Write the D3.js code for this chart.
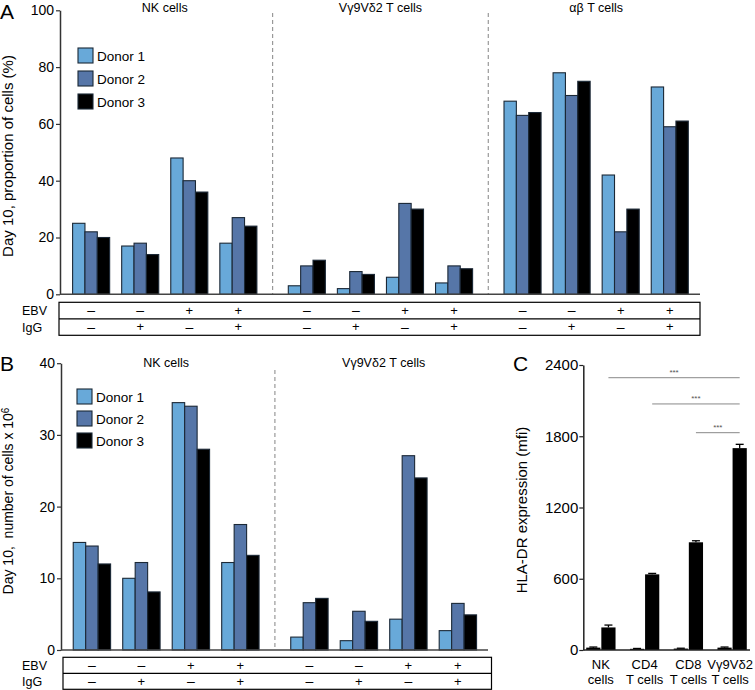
<!DOCTYPE html>
<html><head><meta charset="utf-8">
<script src="https://cdn.jsdelivr.net/npm/d3@7"></script>
<style>body{margin:0;background:#fff} svg{display:block} text{font-family:"Liberation Sans",Arial,sans-serif;fill:#000}</style>
</head><body><svg id="c" width="755" height="690"></svg>
<script>
// ---------- data ----------
const donors = ["Donor 1", "Donor 2", "Donor 3"];
const donorColors = ["#68a9d9", "#5676a8", "#000000"];
const conditions = ["c1", "c2", "c3", "c4"];
const ebvSigns = ["–", "–", "+", "+"];
const iggSigns = ["–", "+", "–", "+"];
const sectionsA = ["NK cells", "Vγ9Vδ2 T cells", "αβ T cells"];
const sectionsB = ["NK cells", "Vγ9Vδ2 T cells"];
// Panel A: % of cells, [condition][donor]
const nkA = [[25, 22, 20], [17, 18, 14], [48, 40, 36], [18, 27, 24]];
const vgA = [[3, 10, 12], [2, 8, 7], [6, 32, 30], [4, 10, 9]];
const abA = [[68, 63, 64], [78, 70, 75], [42, 22, 30], [73, 59, 61]];
// Panel B: number of cells x 10^6
const nkB = [[15, 14.5, 12], [10, 12.2, 8.1], [34.5, 34, 28], [12.2, 17.5, 13.2]];
const vgB = [[1.8, 6.6, 7.2], [1.3, 5.4, 4.0], [4.3, 27.1, 24], [2.7, 6.5, 4.9]];
const ticksA = [0, 20, 40, 60, 80, 100];
const ticksB = [0, 10, 20, 30, 40];
// Panel C: HLA-DR expression (mfi)
const cellTypesC = ["NK", "CD4", "CD8", "Vg9Vd2"];
const cellLabelsC = [["NK", "cells"], ["CD4", "T cells"], ["CD8", "T cells"], ["Vγ9Vδ2", "T cells"]];
const seriesC = ["control", "stimulated"];
const ctrlC = [20, 10, 12, 20];
const ctrlErrC = [5, 3, 3, 5];
const stimC = [190, 637, 907, 1700];
const stimErrC = [20, 8, 13, 32];
const ticksC = [0, 600, 1200, 1800, 2400];
const sigFromC = [0, 1, 2];
const sigToC = 3;
const sigYC = [2293, 2072, 1830];

// ---------- drawing ----------
const svg = d3.select("#c");
const FONT = '"Liberation Sans", Arial, sans-serif';

function barPanel(o) {
  const g = svg.append("g");
  const y = d3.scaleLinear().domain([0, o.yMax]).range([o.y0, o.y1]);
  const xs = d3.scaleBand().domain(o.sections).range(o.xRange);
  const xc = d3.scaleBand().domain(conditions).range([0, xs.bandwidth()]).paddingInner(0.245).paddingOuter(0.32);
  const xd = d3.scaleBand().domain(donors).range([0, xc.bandwidth()]);

  // dashed separators
  o.sections.slice(1).forEach(s => {
    g.append("line").attr("x1", xs(s)).attr("x2", xs(s)).attr("y1", o.dashTop).attr("y2", y(0))
      .attr("stroke", "#999").attr("stroke-width", 1.2).attr("stroke-dasharray", "4,3");
  });
  // section titles
  g.selectAll(".sec").data(o.sections).join("text")
    .attr("x", s => xs(s) + xs.bandwidth() / 2).attr("y", o.titleY)
    .attr("text-anchor", "middle").style("font-size", "12.5px").text(s => s);

  // bars
  o.sections.forEach((s, si) => {
    const vals = o.data[si];
    conditions.forEach((c, ci) => {
      g.selectAll(null).data(vals[ci]).join("rect")
        .attr("x", (v, di) => xs(s) + xc(c) + xd(donors[di]))
        .attr("y", v => y(v))
        .attr("width", xd.bandwidth())
        .attr("height", v => y(0) - y(v))
        .attr("fill", (v, di) => donorColors[di])
        .attr("stroke", "#1b2836").attr("stroke-width", 1.1);
    });
  });

  // y axis
  const ax = g.append("g").attr("transform", `translate(${o.axisX},0)`)
    .call(d3.axisLeft(y).tickValues(o.ticks).tickFormat(d3.format("d")).tickSize(4).tickSizeOuter(0).tickPadding(2));
  ax.select(".domain").attr("stroke", "#333").attr("stroke-width", 1.5);
  ax.selectAll(".tick line").attr("stroke", "#333").attr("stroke-width", 1.2);
  ax.selectAll(".tick text").style("font-size", "14px").style("font-family", FONT).attr("fill", "#000");
  // baseline
  g.append("line").attr("x1", o.axisX).attr("x2", o.baseEnd).attr("y1", y(0)).attr("y2", y(0))
    .attr("stroke", "#444").attr("stroke-width", 1.5);

  // table
  const tl = o.tableLeft, tr = o.tableRight, tt = o.tableTop, rh = o.rowH;
  g.append("rect").attr("x", tl).attr("y", tt).attr("width", tr - tl).attr("height", rh * 2)
    .attr("fill", "none").attr("stroke", "#000").attr("stroke-width", 1.2);
  g.append("line").attr("x1", tl).attr("x2", tr).attr("y1", tt + rh).attr("y2", tt + rh)
    .attr("stroke", "#000").attr("stroke-width", 1.2);
  g.append("text").attr("x", 22).attr("y", tt + rh / 2 + 4.5).style("font-size", "12.5px").text("EBV");
  g.append("text").attr("x", 22).attr("y", tt + rh * 1.5 + 4.5).style("font-size", "12.5px").text("IgG");
  [ebvSigns, iggSigns].forEach((signs, ri) => {
    o.sections.forEach(s => {
      g.selectAll(null).data(signs).join("text")
        .attr("x", (d, ci) => xs(s) + xc(conditions[ci]) + xc.bandwidth() / 2)
        .attr("y", tt + rh * (ri + 0.5))
        .attr("dy", "0.34em")
        .attr("text-anchor", "middle")
        .style("font-size", d => d === "+" ? "13px" : "14px")
        .text(d => d);
    });
  });

  // legend
  donors.forEach((d, i) => {
    g.append("rect").attr("x", o.legX).attr("y", o.legY + i * o.legStep).attr("width", 15).attr("height", 15)
      .attr("fill", donorColors[i]).attr("stroke", "#1b2836").attr("stroke-width", 1.1);
    g.append("text").attr("x", o.legX + 19).attr("y", o.legY + i * o.legStep + 12.5)
      .style("font-size", "13.5px").text(d);
  });

  // y label
  const yl = g.append("text").attr("transform", `translate(13,${o.ylabelY}) rotate(-90)`)
    .attr("text-anchor", "middle").style("font-size", o.ylabelSize);
  o.ylabel(yl);

  // panel letter
  g.append("text").attr("x", 0).attr("y", o.letterY).style("font-size", "21px").text(o.letter);
}

barPanel({
  sections: sectionsA, data: [nkA, vgA, abA], yMax: 100, y0: 294.3, y1: 10.3,
  xRange: [56.9, 704], ticks: ticksA, axisX: 60, baseEnd: 700, dashTop: 13, titleY: 12,
  tableLeft: 59, tableRight: 700, tableTop: 302.3, rowH: 16.5,
  legX: 78, legY: 48, legStep: 23,
  ylabel: t => t.text("Day 10, proportion of cells (%)"), ylabelY: 156, ylabelSize: "15px",
  letter: "A", letterY: 19
});

barPanel({
  sections: sectionsB, data: [nkB, vgB], yMax: 40, y0: 650, y1: 363.2,
  xRange: [57.4, 492.4], ticks: ticksB, axisX: 61, baseEnd: 488, dashTop: 370, titleY: 367,
  tableLeft: 63, tableRight: 491.5, tableTop: 657.3, rowH: 16,
  legX: 77, legY: 389, legStep: 22,
  ylabel: t => { t.append("tspan").text("Day 10,\u00a0 number of cells x 10");
                 t.append("tspan").attr("dy", "-0.45em").style("font-size", "10px").text("6"); },
  ylabelY: 501, ylabelSize: "14px",
  letter: "B", letterY: 371
});

// Panel C
(function () {
  const g = svg.append("g");
  const y = d3.scaleLinear().domain([0, 2400]).range([650, 365]);
  const x0 = d3.scaleBand().domain(cellTypesC).range([579, 754]).paddingInner(0.33).paddingOuter(0.165);
  const x1 = d3.scaleBand().domain(seriesC).range([0, x0.bandwidth()]).paddingInner(0.06);
  const axisX = 583.3;

  const rows = cellTypesC.map((c, i) => ({ c, vals: [[ctrlC[i], ctrlErrC[i]], [stimC[i], stimErrC[i]]] }));
  rows.forEach(r => {
    r.vals.forEach(([v, e], si) => {
      const bx = x0(r.c) + x1(seriesC[si]);
      const cx = bx + x1.bandwidth() / 2;
      g.append("line").attr("x1", cx).attr("x2", cx).attr("y1", y(v)).attr("y2", y(v + e))
        .attr("stroke", "#000").attr("stroke-width", 1.3);
      g.append("line").attr("x1", cx - 4).attr("x2", cx + 4).attr("y1", y(v + e)).attr("y2", y(v + e))
        .attr("stroke", "#000").attr("stroke-width", 1.3);
      g.append("rect").attr("x", bx).attr("y", y(v)).attr("width", x1.bandwidth())
        .attr("height", y(0) - y(v)).attr("fill", "#000");
    });
  });

  const ax = g.append("g").attr("transform", `translate(${axisX},0)`)
    .call(d3.axisLeft(y).tickValues(ticksC).tickFormat(d3.format("d")).tickSize(4).tickSizeOuter(0).tickPadding(1));
  ax.select(".domain").attr("stroke", "#222").attr("stroke-width", 1.5);
  ax.selectAll(".tick line").attr("stroke", "#222").attr("stroke-width", 1.2);
  ax.selectAll(".tick text").style("font-size", "15px").style("font-family", FONT).attr("fill", "#000");
  g.append("line").attr("x1", axisX).attr("x2", 750).attr("y1", y(0)).attr("y2", y(0))
    .attr("stroke", "#222").attr("stroke-width", 1.5);

  // x labels
  cellTypesC.forEach((c, i) => {
    let cx = x0(c) + x0.bandwidth() / 2;
    if (i === cellTypesC.length - 1) cx -= 2;
    g.append("text").attr("x", cx).attr("y", 669).attr("text-anchor", "middle").style("font-size", "13px").text(cellLabelsC[i][0]);
    g.append("text").attr("x", cx).attr("y", 684).attr("text-anchor", "middle").style("font-size", "13px").text(cellLabelsC[i][1]);
  });

  // significance lines
  const stimCenter = c => x0(c) + x1(seriesC[1]) + x1.bandwidth() / 2;
  sigFromC.forEach((fi, k) => {
    const xa = stimCenter(cellTypesC[fi]), xb = stimCenter(cellTypesC[sigToC]);
    g.append("line").attr("x1", xa).attr("x2", xb).attr("y1", y(sigYC[k])).attr("y2", y(sigYC[k]))
      .attr("stroke", "#888").attr("stroke-width", 1);
    g.append("text").attr("x", (xa + xb) / 2).attr("y", y(sigYC[k]) - 2.5).attr("text-anchor", "middle")
      .style("font-size", "8px").style("fill", "#555").text("***");
  });

  g.append("text").attr("transform", "translate(527,510) rotate(-90)").attr("text-anchor", "middle")
    .style("font-size", "15px").text("HLA-DR expression (mfi)");
  g.append("text").attr("x", 513).attr("y", 371).style("font-size", "21px").text("C");
})();
</script></body></html>
